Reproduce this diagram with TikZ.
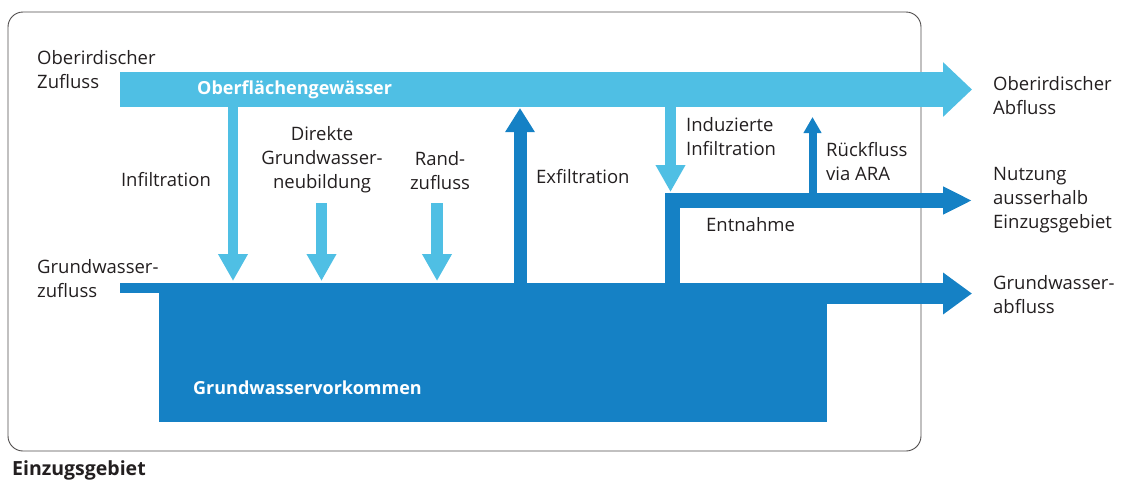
\documentclass[tikz,border=0pt]{standalone}
\usepackage{fontspec}
\setmainfont{Open Sans}
\usetikzlibrary{arrows.meta}
\definecolor{hellblau}{HTML}{4FBFE4}
\definecolor{dunkelblau}{HTML}{1581C5}
\definecolor{schrift}{HTML}{231F20}
\begin{document}
\begin{tikzpicture}[x=1pt,y=-1pt,line join=miter,
	hell/.style={draw=hellblau,line width=#1},
	dunkel/.style={draw=dunkelblau,line width=#1}]
	\useasboundingbox (0,0) rectangle (1130,483);
	% Einzugsgebiet
	\draw[schrift!80,line width=0.9pt,rounded corners=15pt] (8,12) rectangle (921,451);
	% Oberflaechengewaesser
	\draw[hell=35pt,-{Triangle[width=53pt,length=29pt]}] (120,89.5) -- (972,89.5);
	% Grundwasservorkommen
	\fill[dunkelblau] (120,283) rectangle (160,293);
	\fill[dunkelblau] (159,283) rectangle (827,422);
	\draw[dunkel=21pt,-{Triangle[width=40pt,length=29pt]}] (800,293.5) -- (972,293.5);
	% Fluesse zwischen Oberflaeche und Grundwasser
	\draw[hell=10pt,-{Triangle[width=28pt,length=27pt]}] (233,107) -- (233,281);
	\draw[hell=11pt,-{Triangle[width=28pt,length=27pt]}] (321.5,203) -- (321.5,281);
	\draw[hell=12pt,-{Triangle[width=28pt,length=27pt]}] (437,203) -- (437,281);
	\draw[dunkel=13pt,-{Triangle[width=28pt,length=24pt]}] (520,284) -- (520,108);
	\draw[hell=11pt,-{Triangle[width=28pt,length=27pt]}] (670.5,107) -- (670.5,192);
	\draw[dunkel=15pt,-{Triangle[width=26pt,length=29pt]}] (672.5,284) -- (672.5,200.5) -- (972,200.5);
	\draw[dunkel=8pt,-{Triangle[width=17pt,length=16pt]}] (812.5,201) -- (812.5,117);
	% Beschriftungen
	\tikzstyle{every node}=[inner sep=0pt,text=schrift,font=\fontsize{18.5}{24}\selectfont];
	\node[anchor=west,align=left] (zufluss) at (37,70) {Oberirdischer\\Zufluss};
	\node[anchor=west,align=left] (gwzufluss) at (37,279) {Grundwasser-\\zufluss};
	\node (infiltration) at (166,180) {Infiltration};
	\node[align=center] (neubildung) at (322,160) {Direkte\\Grundwasser-\\neubildung};
	\node[align=center] (randzufluss) at (440,171) {Rand-\\zufluss};
	\node[anchor=west] (exfiltration) at (536,177) {Exfiltration};
	\node[anchor=west,align=left] (induziert) at (686,137) {Induzierte\\Infiltration};
	\node[anchor=west,align=left] (rueckfluss) at (826,162) {Rückfluss\\via ARA};
	\node[anchor=west] (entnahme) at (706,225) {Entnahme};
	\node[anchor=west,align=left] (abfluss) at (993,96) {Oberirdischer\\Abfluss};
	\node[anchor=west,align=left] (nutzung) at (993,200) {Nutzung\\ausserhalb\\Einzugsgebiet};
	\node[anchor=west,align=left] (gwabfluss) at (993,295) {Grundwasser-\\abfluss};
	\tikzstyle{every node}=[inner sep=0pt,text=white,font=\fontsize{18}{24}\selectfont\bfseries];
	\node[anchor=west] (gewaesser) at (197,90) {Oberflächengewässer};
	\node[anchor=west] (vorkommen) at (193,388) {Grundwasservorkommen};
	\node[anchor=west,text=schrift,font=\fontsize{19.5}{24}\selectfont\bfseries] (gebiet) at (12,470) {Einzugsgebiet};
\end{tikzpicture}
\end{document}
